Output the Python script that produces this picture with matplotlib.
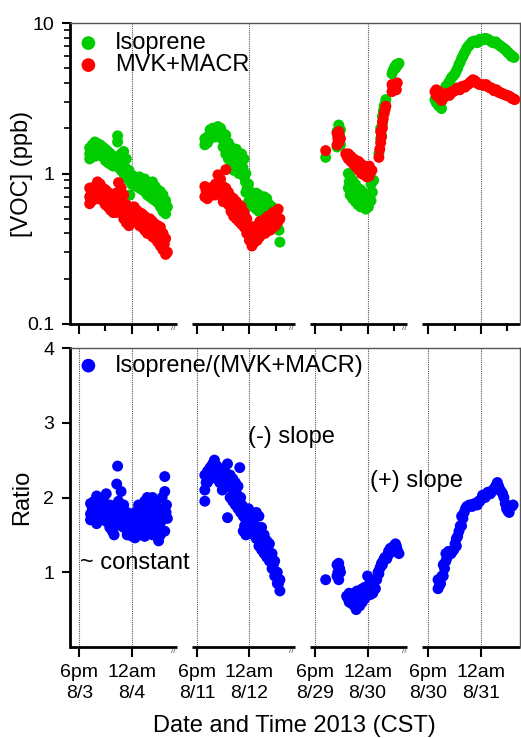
import numpy as np
import matplotlib
matplotlib.use('Agg')
import matplotlib.pyplot as plt
from matplotlib.ticker import NullFormatter, LogLocator

plt.rcParams['font.family'] = ['Liberation Sans', 'DejaVu Sans']

# hours after 6pm of the first day in each of the four periods
iso_h1 = [1.2, 1.2, 1.2, 1.5, 1.5, 1.8, 1.8, 1.8, 2.1, 2.1, 2.4, 2.4, 2.7, 2.7, 3.0, 3.0, 3.3, 3.3, 3.6, 3.6,
          3.9, 3.9, 4.2, 4.4, 4.4, 4.5, 4.8, 4.8, 5.1, 5.1, 5.4, 5.4, 5.7, 5.7, 5.8, 6.0, 6.0, 6.3, 6.3, 6.6,
          6.6, 6.9, 6.9, 7.2, 7.2, 7.5, 7.5, 7.8, 7.8, 8.1, 8.1, 8.4, 8.4, 8.7, 8.7, 9.0, 9.0, 9.3, 9.3, 9.6,
          9.6, 9.9, 9.9, 10.1,
          1.35, 1.65, 1.95, 2.25, 2.55, 2.85, 3.15, 3.45, 3.75, 4.05, 4.65, 4.95, 5.25, 5.55, 5.85, 6.15,
          6.45, 6.75, 7.05, 7.35, 7.65, 7.95, 8.25, 8.55, 8.85, 9.15, 9.45, 9.75]
iso_v1 = [1.48, 1.35, 1.25, 1.55, 1.38, 1.62, 1.45, 1.3, 1.58, 1.4, 1.55, 1.32, 1.5, 1.3, 1.45, 1.22, 1.4, 1.18,
          1.35, 1.15, 1.3, 1.12, 1.25, 1.78, 1.62, 1.1, 1.35, 1.05, 1.4, 1.0, 1.25, 0.95, 1.05, 0.9, 0.72, 0.98,
          0.85, 0.95, 0.84, 0.92, 0.82, 0.95, 0.8, 0.9, 0.78, 0.92, 0.76, 0.88, 0.72, 0.85, 0.7, 0.88, 0.68, 0.82,
          0.66, 0.78, 0.64, 0.76, 0.6, 0.72, 0.56, 0.66, 0.54, 0.6,
          1.42, 1.5, 1.52, 1.47, 1.42, 1.38, 1.3, 1.27, 1.22, 1.2, 1.2, 1.15, 1.1, 1.0, 0.95, 0.9,
          0.88, 0.86, 0.85, 0.83, 0.82, 0.8, 0.78, 0.75, 0.72, 0.7, 0.66, 0.62]
mvk_h1 = [1.2, 1.2, 1.2, 1.5, 1.5, 1.8, 1.8, 2.1, 2.1, 2.1, 2.4, 2.4, 2.7, 2.7, 3.0, 3.0, 3.3, 3.3, 3.6, 3.6,
          3.9, 3.9, 4.2, 4.2, 4.5, 4.5, 4.8, 4.8, 5.1, 5.1, 5.4, 5.4, 5.7, 5.7, 6.0, 6.0, 6.3, 6.3, 6.6, 6.6,
          6.9, 6.9, 7.2, 7.2, 7.5, 7.5, 7.8, 7.8, 8.1, 8.1, 8.4, 8.4, 8.7, 8.7, 9.0, 9.0, 9.3, 9.3, 9.6, 9.6,
          9.9, 9.9, 10.1,
          1.35, 1.65, 1.95, 2.25, 2.55, 2.85, 3.15, 3.45, 3.75, 4.05, 4.35, 4.65, 4.95, 5.25, 5.55, 5.85,
          6.15, 6.45, 6.75, 7.05, 7.35, 7.65, 7.95, 8.25, 8.55, 8.85, 9.15, 9.45, 9.75]
mvk_v1 = [0.8, 0.7, 0.63, 0.78, 0.66, 0.82, 0.7, 0.88, 0.76, 0.68, 0.85, 0.72, 0.8, 0.66, 0.78, 0.62, 0.75, 0.6,
          0.72, 0.57, 0.7, 0.55, 0.74, 0.55, 0.87, 0.62, 0.8, 0.55, 0.72, 0.5, 0.62, 0.47, 0.6, 0.45, 0.58, 0.48,
          0.6, 0.5, 0.57, 0.48, 0.55, 0.45, 0.54, 0.44, 0.52, 0.42, 0.5, 0.4, 0.5, 0.4, 0.48, 0.38, 0.46, 0.37,
          0.45, 0.35, 0.44, 0.33, 0.4, 0.31, 0.37, 0.29, 0.3,
          0.72, 0.74, 0.76, 0.78, 0.76, 0.72, 0.68, 0.66, 0.64, 0.62, 0.64, 0.7, 0.64, 0.6, 0.55, 0.52,
          0.53, 0.54, 0.52, 0.5, 0.48, 0.46, 0.45, 0.44, 0.42, 0.4, 0.38, 0.36, 0.34]
rat_h1 = [1.3, 1.3, 1.3, 1.7, 1.7, 2.0, 2.0, 2.0, 2.4, 2.4, 2.8, 2.8, 3.1, 3.1, 3.1, 3.5, 3.5, 3.8, 3.8, 4.0,
          4.0, 4.3, 4.4, 4.5, 4.5, 4.8, 4.8, 4.8, 5.1, 5.1, 5.5, 5.5, 5.8, 5.8, 6.1, 6.1, 6.4, 6.4, 6.4, 6.8,
          6.8, 7.1, 7.1, 7.5, 7.5, 7.5, 7.8, 7.8, 8.1, 8.1, 8.4, 8.4, 8.4, 8.8, 8.8, 9.1, 9.1, 9.3, 9.5, 9.5,
          9.8, 9.8, 9.8, 10.0, 10.1,
          1.5, 1.85, 2.2, 2.6, 2.95, 3.3, 3.65, 4.15, 4.65, 4.95, 5.3, 5.65, 5.95, 6.25, 6.6, 6.95, 7.3,
          7.65, 7.95, 8.25, 8.6, 8.95, 9.25, 9.65, 9.95]
rat_v1 = [1.92, 1.78, 1.7, 1.95, 1.75, 2.02, 1.85, 1.65, 1.9, 1.7, 2.0, 1.75, 2.05, 1.85, 1.68, 1.9, 1.6, 1.8,
          1.55, 1.85, 1.5, 2.18, 2.42, 1.95, 1.65, 2.08, 1.85, 1.62, 1.9, 1.6, 1.8, 1.5, 1.75, 1.5, 1.7, 1.48,
          1.8, 1.6, 1.46, 1.9, 1.55, 1.85, 1.5, 1.95, 1.7, 1.48, 2.0, 1.6, 1.9, 1.55, 2.0, 1.75, 1.5, 1.95,
          1.6, 1.85, 1.42, 1.5, 2.0, 1.7, 2.28, 2.08, 1.55, 1.9, 1.72,
          1.85, 1.8, 1.82, 1.85, 1.88, 1.78, 1.72, 1.68, 1.8, 1.75, 1.72, 1.65, 1.6, 1.62, 1.7, 1.72, 1.65,
          1.8, 1.75, 1.7, 1.8, 1.75, 1.65, 1.85, 1.8]

iso_h2 = [0.9, 0.9, 1.2, 1.2, 1.5, 1.5, 1.8, 1.8, 2.1, 2.1, 2.4, 2.4, 2.7, 2.7, 3.0, 3.0, 3.3, 3.3, 3.6, 3.6,
          3.9, 3.9, 4.2, 4.2, 4.5, 4.5, 4.8, 4.8, 5.1, 5.1, 5.4, 5.4, 5.6, 5.6, 5.9, 5.9, 6.2, 6.2, 6.5, 6.5,
          6.8, 6.8, 7.1, 7.1, 7.4, 7.4, 7.7, 7.7, 8.0, 8.0, 8.3, 8.3, 8.6, 8.6, 8.9, 8.9, 9.2, 9.4, 9.5,
          1.05, 1.35, 1.65, 1.95, 2.25, 2.55, 2.85, 3.15, 3.45, 3.75, 4.05, 4.35, 4.65, 4.95, 5.25, 5.55,
          5.75, 6.05, 6.35, 6.65, 6.95, 7.25, 7.55, 7.85, 8.15, 8.45, 8.75]
iso_v2 = [1.7, 1.55, 1.75, 1.6, 1.95, 1.7, 2.0, 1.8, 1.95, 1.75, 2.05, 1.8, 2.0, 1.85, 1.85, 1.5, 1.8, 1.35,
          1.6, 1.25, 1.5, 1.15, 1.4, 1.05, 1.45, 1.1, 1.3, 1.0, 1.35, 1.0, 1.25, 0.95, 1.0, 0.75, 0.85, 0.65,
          0.75, 0.62, 0.72, 0.6, 0.74, 0.58, 0.72, 0.56, 0.68, 0.55, 0.7, 0.56, 0.68, 0.55, 0.62, 0.5, 0.6, 0.48,
          0.5, 0.45, 0.44, 0.42, 0.35,
          1.62, 1.68, 1.85, 1.88, 1.9, 1.92, 1.7, 1.6, 1.5, 1.4, 1.28, 1.22, 1.25, 1.15, 1.1, 0.88,
          0.8, 0.72, 0.68, 0.66, 0.65, 0.63, 0.62, 0.62, 0.6, 0.56, 0.52]
mvk_h2 = [0.9, 0.9, 1.2, 1.2, 1.5, 1.5, 1.8, 1.8, 2.1, 2.1, 2.4, 2.4, 2.7, 2.7, 3.0, 3.0, 3.3, 3.3, 3.6, 3.6,
          3.9, 3.9, 4.2, 4.2, 4.5, 4.5, 4.8, 4.8, 5.1, 5.1, 5.4, 5.4, 5.7, 5.7, 6.0, 6.0, 6.3, 6.3, 6.6, 6.6,
          6.9, 6.9, 7.2, 7.2, 7.5, 7.5, 7.8, 7.8, 8.1, 8.1, 8.4, 8.4, 8.7, 8.7, 9.0, 9.0, 9.3, 9.3, 9.5,
          1.05, 1.35, 1.65, 1.95, 2.25, 2.55, 2.85, 3.15, 3.45, 3.75, 4.05, 4.35, 4.65, 4.95, 5.25, 5.55,
          5.85, 6.15, 6.45, 6.75, 7.05, 7.35, 7.65, 7.95, 8.25, 8.55, 8.85, 9.15]
mvk_v2 = [0.82, 0.7, 0.8, 0.68, 0.8, 0.72, 0.78, 0.72, 0.85, 0.72, 0.98, 0.78, 0.92, 0.75, 0.82, 0.65, 1.06, 0.8,
          0.75, 0.62, 0.7, 0.56, 0.68, 0.52, 0.65, 0.5, 0.62, 0.48, 0.6, 0.46, 0.55, 0.44, 0.5, 0.4, 0.45, 0.36,
          0.42, 0.33, 0.44, 0.35, 0.45, 0.36, 0.48, 0.38, 0.48, 0.4, 0.5, 0.4, 0.52, 0.42, 0.5, 0.42, 0.55, 0.44,
          0.55, 0.45, 0.58, 0.48, 0.5,
          0.76, 0.74, 0.75, 0.78, 0.8, 0.86, 0.82, 0.72, 0.72, 0.68, 0.63, 0.6, 0.57, 0.55, 0.52, 0.48,
          0.42, 0.39, 0.38, 0.4, 0.41, 0.43, 0.44, 0.46, 0.46, 0.48, 0.5, 0.52]
rat_h2 = [0.9, 0.9, 0.9, 1.2, 1.2, 1.5, 1.5, 1.8, 1.8, 2.0, 2.0, 2.3, 2.3, 2.6, 2.6, 2.9, 2.9, 3.2, 3.2, 3.5,
          3.5, 3.5, 3.8, 3.8, 4.1, 4.1, 4.4, 4.4, 4.7, 4.7, 4.9, 5.0, 5.0, 5.3, 5.3, 5.6, 5.6, 5.9, 5.9, 6.2,
          6.2, 6.5, 6.5, 6.8, 6.8, 7.1, 7.1, 7.4, 7.4, 7.7, 7.7, 8.0, 8.0, 8.3, 8.3, 8.6, 8.6, 8.9, 8.9, 9.2,
          9.2, 9.5, 9.5,
          1.05, 1.35, 1.65, 1.9, 2.15, 2.45, 2.75, 3.05, 3.35, 3.65, 3.95, 4.25, 4.55, 4.85, 5.15, 5.45,
          5.75, 6.05, 6.35, 6.65, 6.95, 7.25, 7.55, 7.85, 8.15, 8.45, 8.75, 9.05, 9.35]
rat_v2 = [2.3, 2.1, 1.95, 2.35, 2.2, 2.4, 2.25, 2.45, 2.3, 2.5, 2.35, 2.42, 2.25, 2.38, 2.2, 2.3, 2.1, 2.35,
          2.15, 2.45, 2.2, 1.73, 2.3, 2.0, 2.25, 1.95, 2.2, 1.9, 2.15, 1.85, 2.4, 2.0, 1.8, 1.75, 1.55, 1.7,
          1.5, 1.85, 1.6, 1.8, 1.55, 1.75, 1.5, 1.8, 1.45, 1.75, 1.35, 1.6, 1.3, 1.5, 1.25, 1.42, 1.2, 1.38,
          1.15, 1.25, 1.05, 1.15, 0.95, 1.0, 0.85, 0.9, 0.75,
          2.2, 2.28, 2.33, 2.38, 2.4, 2.33, 2.3, 2.22, 2.25, 2.2, 2.12, 2.08, 2.05, 1.98, 1.9, 1.62,
          1.7, 1.7, 1.62, 1.62, 1.6, 1.5, 1.42, 1.35, 1.3, 1.25, 1.1, 1.0, 0.85]

iso_h3 = [1.2, 2.5, 2.5, 2.7, 2.7, 2.9, 2.9, 3.8, 3.8, 4.0, 4.0, 4.3, 4.3, 4.6, 4.6, 4.9, 4.9, 5.2, 5.2, 5.5,
          5.5, 5.8, 5.8, 6.1, 6.1, 6.4, 6.4, 6.7, 7.3, 7.5, 7.5, 7.7, 7.7, 7.9, 8.1, 8.8, 9.0, 9.2, 9.4, 9.6,
          2.6, 2.8, 3.9, 4.15, 4.45, 4.75, 5.05, 5.35, 5.65, 5.95, 6.25, 6.55, 7.6, 7.8, 8.0, 8.9, 9.1, 9.3]
iso_v3 = [1.28, 1.9, 1.5, 2.1, 1.6, 1.95, 1.55, 1.0, 0.8, 0.95, 0.72, 0.9, 0.68, 0.85, 0.65, 0.8, 0.62, 0.78,
          0.6, 0.75, 0.62, 0.7, 0.58, 0.72, 0.6, 0.85, 0.66, 0.9, 1.36, 1.7, 2.0, 2.4, 2.1, 2.8, 3.1, 4.6, 4.9,
          5.0, 5.2, 5.4,
          1.75, 1.8, 0.88, 0.82, 0.78, 0.72, 0.7, 0.68, 0.66, 0.64, 0.66, 0.75, 1.8, 2.6, 2.9, 4.8, 5.1, 5.3]
mvk_h3 = [1.2, 2.5, 2.5, 2.7, 2.7, 2.9, 3.5, 3.8, 3.8, 4.1, 4.1, 4.4, 4.4, 4.7, 4.7, 5.0, 5.0, 5.3, 5.3, 5.6,
          5.6, 5.9, 5.9, 6.2, 6.2, 6.5, 7.3, 7.5, 7.5, 7.7, 7.7, 7.9, 8.1, 8.8, 8.8, 9.0, 9.2, 9.4,
          2.6, 2.8, 3.65, 3.95, 4.25, 4.55, 4.85, 5.15, 5.45, 5.75, 6.05, 6.35, 7.4, 7.6, 7.8, 8.0, 8.9, 9.1, 9.3]
mvk_v3 = [1.42, 1.85, 1.55, 1.9, 1.6, 1.7, 1.35, 1.35, 1.25, 1.3, 1.2, 1.25, 1.15, 1.22, 1.1, 1.2, 1.05, 1.15,
          1.0, 1.12, 0.98, 1.1, 0.95, 1.12, 0.96, 1.05, 1.28, 1.6, 1.9, 2.2, 2.0, 2.5, 2.8, 3.9, 3.5, 3.7, 3.9, 4.0,
          1.7, 1.75, 1.3, 1.28, 1.22, 1.18, 1.15, 1.1, 1.08, 1.04, 1.02, 1.02, 1.45, 1.75, 2.3, 2.65, 3.75, 3.8, 3.6]
rat_h3 = [1.2, 2.5, 2.5, 2.7, 2.7, 2.9, 3.6, 3.9, 3.9, 4.2, 4.2, 4.5, 4.5, 4.7, 4.8, 4.8, 5.1, 5.1, 5.4, 5.4,
          5.7, 5.7, 6.0, 6.0, 6.3, 6.3, 6.6, 6.6, 6.9, 6.9, 7.2, 7.4, 7.6, 7.8, 8.0, 8.2, 8.4, 8.6, 8.8, 9.0,
          9.2, 9.4, 9.6,
          2.6, 2.8, 3.75, 4.05, 4.35, 4.65, 4.95, 5.25, 5.55, 5.85, 6.15, 6.45, 6.75, 7.05, 7.3, 7.5, 7.7,
          7.9, 8.1, 8.3, 8.5, 8.7, 8.9, 9.1, 9.3]
rat_v3 = [0.9, 1.1, 0.95, 1.12, 0.9, 1.0, 0.68, 0.72, 0.6, 0.7, 0.58, 0.72, 0.55, 0.5, 0.75, 0.6, 0.72, 0.55,
          0.78, 0.6, 0.8, 0.65, 0.95, 0.7, 0.88, 0.7, 0.85, 0.72, 0.9, 0.78, 1.0, 1.05, 1.12, 1.15, 1.2, 1.18,
          1.28, 1.32, 1.3, 1.35, 1.38, 1.3, 1.25,
          1.0, 1.05, 0.65, 0.65, 0.64, 0.62, 0.66, 0.64, 0.7, 0.75, 0.8, 0.78, 0.8, 0.9, 0.98, 1.08, 1.1,
          1.18, 1.2, 1.22, 1.25, 1.3, 1.28, 1.32, 1.35]

iso_h4 = [0.9, 0.9, 1.2, 1.5, 1.5, 2.0, 2.0, 2.3, 2.6, 2.9, 3.2, 3.5, 3.8, 4.1, 4.4, 4.7, 5.0, 5.3, 5.6, 5.9,
          6.2, 6.5, 6.8, 7.1, 7.4, 7.7, 8.0, 8.3, 8.6, 8.9, 9.2, 9.5, 9.8,
          0.75, 1.05, 1.35, 1.75, 2.15, 2.45, 2.75, 3.05, 3.35, 3.65, 3.95, 4.25, 4.55, 4.85, 5.15, 5.45,
          5.75, 6.05, 6.35, 6.65, 6.95, 7.25, 7.55, 7.85, 8.15, 8.45, 8.75, 9.05, 9.35, 9.65]
iso_v4 = [3.2, 2.95, 2.8, 2.7, 3.0, 3.8, 3.5, 4.0, 4.3, 4.5, 4.8, 5.3, 5.8, 6.3, 6.8, 7.1, 7.5, 7.6, 7.4, 7.8,
          7.7, 7.9, 7.8, 7.6, 7.4, 7.5, 7.2, 7.0, 6.8, 6.6, 6.3, 6.0, 5.9,
          3.1, 3.05, 2.85, 3.3, 3.7, 4.1, 4.4, 4.6, 5.0, 5.5, 6.0, 6.5, 7.0, 7.3, 7.5, 7.5,
          7.6, 7.75, 7.8, 7.85, 7.7, 7.5, 7.4, 7.3, 7.1, 6.9, 6.7, 6.4, 6.2, 6.0]
mvk_h4 = [0.9, 0.9, 1.2, 1.2, 1.5, 1.5, 1.8, 2.1, 2.4, 2.7, 3.0, 3.3, 3.6, 3.9, 4.2, 4.5, 4.8, 5.1, 5.4, 5.7,
          6.0, 6.3, 6.6, 6.9, 7.2, 7.5, 7.8, 8.1, 8.4, 8.7, 9.0, 9.3, 9.6, 9.9,
          0.75, 1.05, 1.35, 1.65, 1.95, 2.25, 2.55, 2.85, 3.15, 3.45, 3.75, 4.05, 4.35, 4.65, 4.95, 5.25,
          5.55, 5.85, 6.15, 6.45, 6.75, 7.05, 7.35, 7.65, 7.95, 8.25, 8.55, 8.85, 9.15, 9.45, 9.75]
mvk_v4 = [3.6, 3.3, 3.5, 3.2, 3.3, 3.05, 3.2, 3.4, 3.3, 3.5, 3.55, 3.7, 3.6, 3.8, 3.75, 3.9, 4.05, 4.2, 4.1,
          3.95, 3.9, 3.85, 3.9, 3.75, 3.7, 3.55, 3.6, 3.45, 3.4, 3.35, 3.3, 3.25, 3.15, 3.1,
          3.5, 3.4, 3.3, 3.2, 3.3, 3.35, 3.4, 3.5, 3.6, 3.65, 3.7, 3.8, 3.85, 3.95, 4.1, 4.15,
          4.0, 3.9, 3.9, 3.85, 3.8, 3.72, 3.65, 3.58, 3.5, 3.45, 3.38, 3.32, 3.28, 3.2, 3.12]
rat_h4 = [1.1, 1.1, 1.4, 1.7, 1.7, 2.0, 2.0, 2.3, 2.6, 2.9, 3.2, 3.2, 3.5, 3.8, 3.8, 4.1, 4.4, 4.7, 5.0, 5.3,
          5.6, 5.9, 6.2, 6.5, 6.8, 7.1, 7.4, 7.7, 7.9, 8.2, 8.5, 8.8, 9.1, 9.4, 9.7,
          1.25, 1.55, 1.85, 2.15, 2.45, 2.75, 3.05, 3.35, 3.65, 3.95, 4.25, 4.55, 4.85, 5.15, 5.45, 5.75,
          6.05, 6.35, 6.65, 6.95, 7.25, 7.55, 7.85, 8.05, 8.35, 8.65, 8.95, 9.25, 9.55]
rat_v4 = [0.9, 0.78, 0.85, 1.1, 0.95, 1.25, 1.15, 1.28, 1.25, 1.3, 1.45, 1.35, 1.55, 1.75, 1.62, 1.8, 1.88,
          1.9, 1.88, 1.92, 1.9, 1.95, 2.03, 2.0, 2.07, 2.05, 2.1, 2.15, 2.2, 2.1, 2.05, 1.92, 1.82, 1.88, 1.9,
          0.82, 0.95, 1.05, 1.2, 1.25, 1.28, 1.38, 1.48, 1.62, 1.72, 1.85, 1.88, 1.9, 1.9, 1.92, 1.95,
          1.98, 2.02, 2.05, 2.07, 2.08, 2.12, 2.18, 2.15, 2.08, 2.0, 1.85, 1.8, 1.88]

seg_labels = [('8/3', '8/4'), ('8/11', '8/12'), ('8/29', '8/30'), ('8/30', '8/31')]

iso_h = [iso_h1, iso_h2, iso_h3, iso_h4]
iso_v = [iso_v1, iso_v2, iso_v3, iso_v4]
mvk_h = [mvk_h1, mvk_h2, mvk_h3, mvk_h4]
mvk_v = [mvk_v1, mvk_v2, mvk_v3, mvk_v4]
rat_h = [rat_h1, rat_h2, rat_h3, rat_h4]
rat_v = [rat_v1, rat_v2, rat_v3, rat_v4]

# layout of the broken time axis (axis units = hours)
offsets = [1.11, 14.6, 28.14, 41.11]          # position of 6pm in each block
seg_span = [(0.0, 12.29), (14.0, 25.8), (27.5, 38.7), (40.4, 51.6)]
xmax = 51.6

GREEN = '#00CC00'
RED = '#FF0000'
BLUE = '#0000FF'
W, H = 521, 738
AX_L, AX_R = 69.5, 520

fig = plt.figure(figsize=(W / 100, H / 100), dpi=100)
ax1 = fig.add_axes([AX_L / W, 1 - 324 / H, (AX_R - AX_L) / W, (324 - 23) / H])
ax2 = fig.add_axes([AX_L / W, 1 - 647 / H, (AX_R - AX_L) / W, (647 - 348) / H])

ms = 62
for i in range(4):
    off = offsets[i]
    ax1.scatter(np.array(iso_h[i]) + off, iso_v[i], s=ms, color=GREEN, edgecolors='none', zorder=3,
                label='Isoprene' if i == 0 else None)
    ax1.scatter(np.array(mvk_h[i]) + off, mvk_v[i], s=ms, color=RED, edgecolors='none', zorder=3,
                label='MVK+MACR' if i == 0 else None)
    ax2.scatter(np.array(rat_h[i]) + off, rat_v[i], s=ms, color=BLUE, edgecolors='none', zorder=3,
                label='Isoprene/(MVK+MACR)' if i == 0 else None)

# axes styling
for ax in (ax1, ax2):
    ax.set_xlim(0, xmax)
    ax.spines['bottom'].set_visible(False)
    ax.spines['left'].set_linewidth(2)
    for s in ('top', 'right'):
        ax.spines[s].set_linewidth(1.0)
        ax.spines[s].set_color('#555555')
    ax.tick_params(axis='y', direction='out', width=1.5, length=6, labelsize=14, pad=5)
    ax.tick_params(axis='x', direction='out', width=1.5, length=7, labelsize=14, pad=5)
    ax.tick_params(which='minor', direction='out', width=1.2, length=4)
    for a, b in seg_span:
        ax.plot([a, b], [0, 0], color='black', lw=2, transform=ax.get_xaxis_transform(),
                clip_on=False, solid_capstyle='butt')
    for a, b in seg_span[:3]:
        ax.text(b - 0.35, -0.004, '//', transform=ax.get_xaxis_transform(), fontsize=6,
                color='#444444', ha='center', va='top')

majors = [o + h for o in offsets for h in (0, 6)]
minors = [o + h for o in offsets for h in (3, 9)]
labels = []
for a, b in seg_labels:
    labels += ['6pm\n' + a, '12am\n' + b]

# top panel
ax1.set_yscale('log')
ax1.set_ylim(0.1, 10)
ax1.set_yticks([0.1, 1, 10])
ax1.set_yticklabels(['0.1', '1', '10'])
ax1.yaxis.set_minor_locator(LogLocator(base=10, subs=np.arange(2, 10)))
ax1.yaxis.set_minor_formatter(NullFormatter())
ax1.set_xticks(majors)
ax1.set_xticklabels([])
ax1.set_xticks(minors, minor=True)
ax1.tick_params(axis='x', which='minor', length=5, width=1.5)
ax1.set_ylabel('[VOC] (ppb)', fontsize=17)
ax1.yaxis.set_label_coords((33 - AX_L) / (AX_R - AX_L), 0.5)
for o in offsets:
    ax1.axvline(o + 6, color='#555555', lw=0.8, ls=(0, (1, 1)), zorder=1)
ax1.legend(loc='upper left', bbox_to_anchor=(0.0, 0.977), frameon=False, fontsize=17,
           handletextpad=0.43, labelspacing=0.0, borderaxespad=0.1, borderpad=0, markerscale=1.25,
           scatterpoints=1, handlelength=1.4)

# bottom panel
ax2.set_ylim(0, 4)
ax2.set_yticks([1, 2, 3, 4])
ax2.set_xticks(majors)
ax2.set_xticklabels(labels, linespacing=1.3)
ax2.set_ylabel('Ratio', fontsize=17)
ax2.yaxis.set_label_coords((33 - AX_L) / (AX_R - AX_L), 0.5)
ax2.set_xlabel('Date and Time 2013 (CST)', fontsize=17, labelpad=10)
for x in majors:
    ax2.axvline(x, color='#555555', lw=0.8, ls=(0, (1, 1)), zorder=1)
ax2.legend(loc='upper left', bbox_to_anchor=(0.0, 0.985), frameon=False, fontsize=17,
           handletextpad=0.43, borderaxespad=0.1, borderpad=0, markerscale=1.25, scatterpoints=1,
           handlelength=1.4)

fig.text(248 / W, 1 - 437 / H, '(-) slope', fontsize=17, va='center', ha='left')
fig.text(370 / W, 1 - 481 / H, '(+) slope', fontsize=17, va='center', ha='left')
fig.text(80 / W, 1 - 563 / H, '~ constant', fontsize=17, va='center', ha='left')

fig.savefig('out.png', dpi=100)
